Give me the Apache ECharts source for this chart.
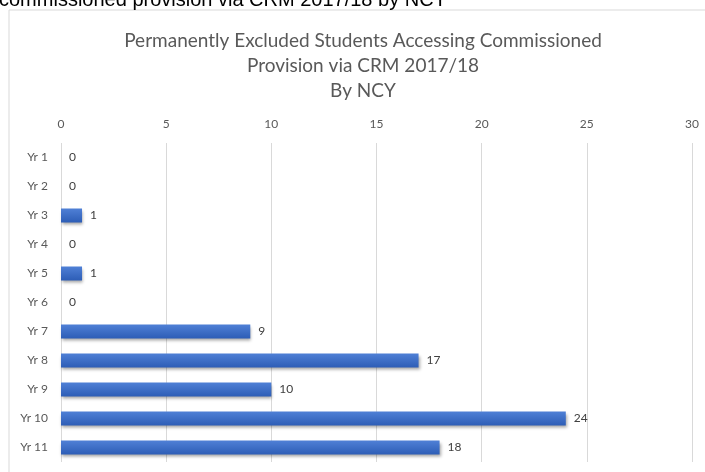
<!DOCTYPE html>
<html>
<head>
<meta charset="utf-8">
<script src="https://cdn.jsdelivr.net/npm/echarts@6/dist/echarts.min.js"></script>
<style>html,body{margin:0;padding:0;background:#fff;}#c{width:705px;height:472px;}</style>
</head>
<body>
<div id="c"></div>
<script>
const categories = ['Yr 1','Yr 2','Yr 3','Yr 4','Yr 5','Yr 6','Yr 7','Yr 8','Yr 9','Yr 10','Yr 11'];
const values = [0,0,1,0,1,0,9,17,10,24,18];
const titleLines = ['Permanently Excluded Students Accessing Commissioned','Provision via CRM 2017/18','By NCY'];
const pageHeading = 'commissioned provision via CRM 2017/18 by NCY';

const chart = echarts.init(document.getElementById('c'));
chart.setOption({
  animation: false,
  graphic: [
    { type: 'rect', shape: { x: 9, y: 10, width: 720, height: 480 }, style: { fill: '#fff', stroke: '#d9d9d9', lineWidth: 1 }, z: -10 },
    { type: 'text', x: -1, y: 10, style: { text: pageHeading, font: '20px "Liberation Sans", Arial, sans-serif', fill: '#000', verticalAlign: 'bottom' }, z: 10 }
  ],
  title: {
    text: titleLines.join('\n'),
    left: 358, textAlign: 'center', top: 23,
    textStyle: { fontFamily: 'Lato', fontWeight: 'normal', fontSize: 19, color: '#595959', lineHeight: 25 }
  },
  grid: { left: 61, right: 13, top: 143, bottom: 10 },
  xAxis: {
    type: 'value', position: 'top', min: 0, max: 30, interval: 5,
    axisLine: { show: false }, axisTick: { show: false },
    axisLabel: { color: '#595959', fontFamily: 'Lato', fontSize: 12, margin: 13 },
    splitLine: { lineStyle: { color: '#d9d9d9', width: 1 } }
  },
  yAxis: {
    type: 'category', data: categories, inverse: true,
    axisLine: { show: false }, axisTick: { show: false },
    axisLabel: { color: '#595959', fontFamily: 'Lato', fontSize: 12, margin: 13 }
  },
  series: [{
    type: 'bar', data: values, barWidth: 14,
    itemStyle: {
      color: new echarts.graphic.LinearGradient(0,0,0,1,[{offset:0,color:'#4f80d6'},{offset:1,color:'#2d5db6'}]),
      shadowColor: 'rgba(0,0,0,0.35)', shadowBlur: 3, shadowOffsetY: 2, shadowOffsetX: 1
    },
    label: { show: true, position: 'right', distance: 8, color: '#404040', fontFamily: 'Lato', fontSize: 12 }
  }]
});
</script>
</body>
</html>
